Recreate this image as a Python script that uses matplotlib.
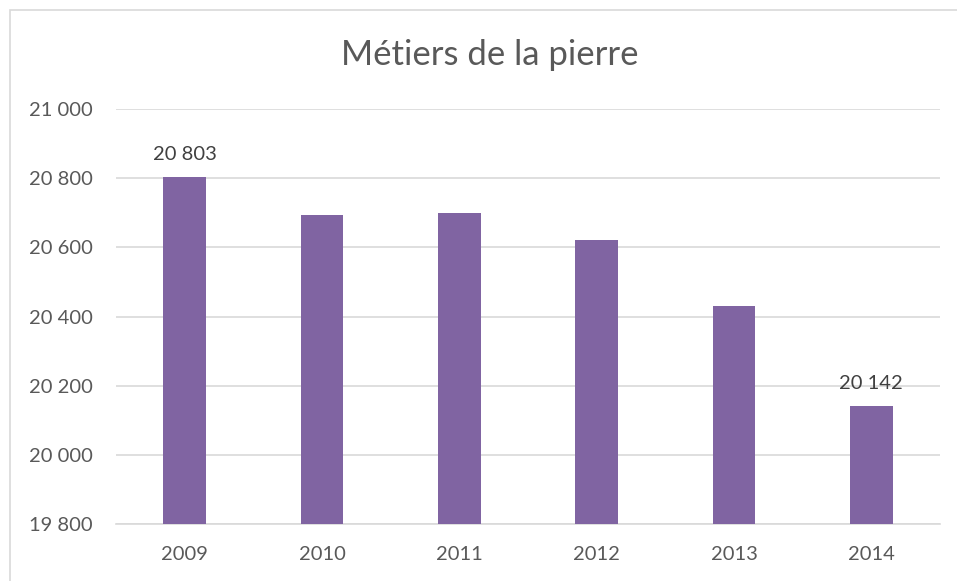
import matplotlib.pyplot as plt
from matplotlib.patches import Rectangle
from matplotlib.ticker import FuncFormatter

# Data
years = ["2009", "2010", "2011", "2012", "2013", "2014"]
values = [20803, 20694, 20699, 20621, 20431, 20142]
labelled = [0, 5]  # only first and last bars carry a value label
yticks = [19800, 20000, 20200, 20400, 20600, 20800, 21000]

plt.rcParams["font.family"] = ["Lato", "DejaVu Sans"]


def fmt(v, pos=None):
    return f"{int(v):,}".replace(",", " ")


fig = plt.figure(figsize=(9.57, 5.81), dpi=100)
# chart frame, cut off on the right and bottom edges like the reference
fig.patches.append(Rectangle((10 / 957, -0.05), 1.0, 1 - 10 / 581 + 0.05,
                             transform=fig.transFigure, fill=False,
                             edgecolor="#d9d9d9", linewidth=1.2))

ax = fig.add_axes([116 / 957, 57 / 581, 824 / 957, 415 / 581])
x = range(len(years))
ax.bar(x, [v - yticks[0] for v in values], bottom=yticks[0], width=0.31,
       color="#8064A2", zorder=3)

ax.set_ylim(yticks[0], yticks[-1])
ax.set_xlim(-0.5, len(years) - 0.5)
ax.set_yticks(yticks)
ax.yaxis.set_major_formatter(FuncFormatter(fmt))
ax.set_xticks(list(x))
ax.set_xticklabels(years)
ax.grid(axis="y", color="#d9d9d9", linewidth=1.2, zorder=0)
ax.tick_params(axis="both", length=0, labelsize=14.5, colors="#595959")
ax.tick_params(axis="y", pad=17)
ax.tick_params(axis="x", pad=16)
for side in ["top", "right", "left"]:
    ax.spines[side].set_visible(False)
ax.spines["bottom"].set_color("#d9d9d9")
ax.spines["bottom"].set_linewidth(1.2)

for i in labelled:
    ax.annotate(fmt(values[i]), (i, values[i]), xytext=(0, 10),
                textcoords="offset points", ha="center", va="bottom",
                fontsize=14.5, color="#404040")

fig.text(490 / 957, 1 - 55 / 581, "Métiers de la pierre", ha="center",
         va="center", fontsize=25, color="#595959")

fig.savefig("out.png", dpi=100)
